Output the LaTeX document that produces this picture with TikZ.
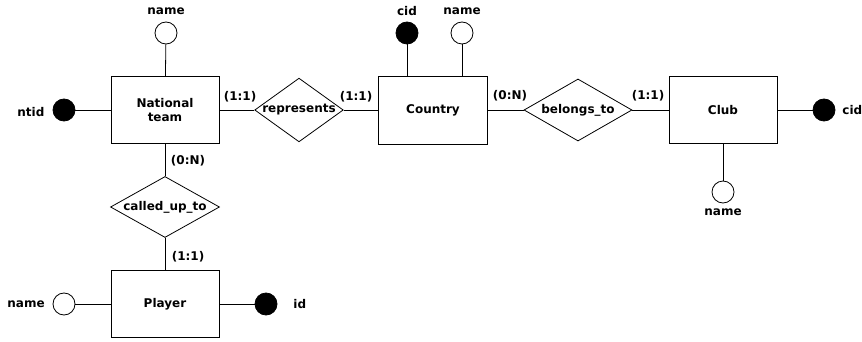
\documentclass[tikz,border=0pt]{standalone}
\usepackage{fontspec}
\setmainfont{DejaVu Sans}
\usetikzlibrary{shapes.geometric}
\begin{document}
\begin{tikzpicture}[x=1pt,y=-1pt,line width=0.8pt,
  every node/.style={font=\fontsize{12}{14}\selectfont\bfseries},
  entity/.style={draw,rectangle,minimum width=108pt,minimum height=67pt,align=center,inner sep=0pt},
  rel/.style={draw,diamond,inner sep=0pt,minimum height=62pt},
  keyattr/.style={draw,circle,fill=black,minimum size=22pt,inner sep=0pt},
  attr/.style={draw,circle,fill=white,minimum size=22pt,inner sep=0pt},
  lbl/.style={inner sep=0pt}]
\useasboundingbox (0,0) rectangle (862,342);
% entities
\node[entity] (nt) at (165,110) {National\\team};
\node[entity,minimum width=109pt,minimum height=68pt] (country) at (433,110) {Country};
\node[entity] (club) at (723,110) {Club};
\node[entity] (player) at (165,304) {Player};
% relationships
\node[rel,minimum width=86pt,aspect=1.39] (repr) at (299,110) {represents};
\node[rel,minimum width=108pt,aspect=1.74] (belongs) at (578,110) {belongs\_to};
\node[rel,minimum width=109pt,minimum height=61pt,aspect=1.79] (called) at (165,207) {called\_up\_to};
% attributes
\node[attr] (ntname) at (166,33) {};
\node[lbl] (ntnamel) at (166,11) {name};
\node[keyattr] (ntid) at (64,110) {};
\node[lbl,anchor=west] (ntidl) at (17,112) {ntid};
\node[keyattr] (ccid) at (407,33) {};
\node[lbl] (ccidl) at (407,11) {cid};
\node[attr] (cname) at (462,33) {};
\node[lbl] (cnamel) at (462,11) {name};
\node[keyattr] (clcid) at (824,110) {};
\node[lbl,anchor=west] (clcidl) at (842,110) {cid};
\node[attr] (clname) at (723,192) {};
\node[lbl] (clnamel) at (723,212) {name};
\node[attr] (pname) at (64,304) {};
\node[lbl,anchor=west] (pnamel) at (7,304) {name};
\node[keyattr] (pid) at (266,304) {};
\node[lbl,anchor=west] (pidl) at (293,304) {id};
% cardinalities
\node[lbl] (c1) at (240,97) {(1:1)};
\node[lbl] (c2) at (356,97) {(1:1)};
\node[lbl] (c3) at (510,96) {(0:N)};
\node[lbl] (c4) at (648,96) {(1:1)};
\node[lbl] (c5) at (188,161) {(0:N)};
\node[lbl] (c6) at (188,257) {(1:1)};
% connectors
\draw (nt) -- (repr) -- (country);
\draw (country) -- (belongs) -- (club);
\draw (nt) -- (called) -- (player);
\draw (ntname) -- (nt);
\draw (ntid) -- (nt);
\draw (ccid) -- (ccid |- country.north);
\draw (cname) -- (cname |- country.north);
\draw (clcid) -- (club);
\draw (clname) -- (club);
\draw (pname) -- (player);
\draw (pid) -- (player);
\end{tikzpicture}
\end{document}
